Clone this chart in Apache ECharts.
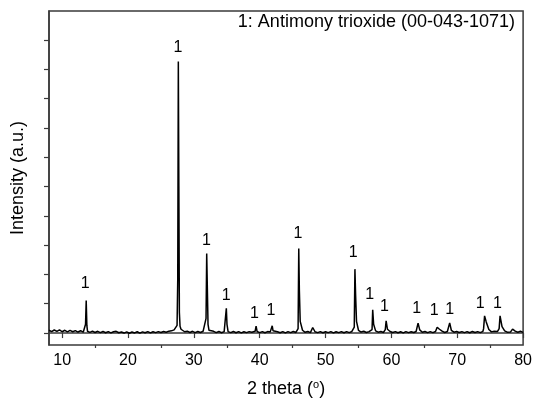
<!DOCTYPE html>
<html>
<head>
<meta charset="utf-8">
<script src="https://cdn.jsdelivr.net/npm/echarts@6/dist/echarts.min.js"></script>
<style>html,body{margin:0;padding:0;background:#fff}#c{width:535px;height:403px}</style>
</head>
<body>
<div id="c"></div>
<script>
// 2theta (deg)
const twoTheta = [8.0,8.4,8.8,9.2,9.6,10.0,10.4,10.8,11.2,11.6,12.0,12.4,12.8,13.2,13.45,13.55,13.65,13.75,13.85,14.2,14.6,15.0,15.4,15.8,16.2,16.6,17.0,17.4,17.8,18.2,18.6,19.0,19.4,19.8,20.2,20.6,21.0,21.4,21.8,22.2,22.6,23.0,23.4,23.8,24.2,24.6,25.0,25.4,25.8,26.2,26.6,27.0,27.3,27.45,27.55,27.64,27.72,27.8,27.9,28.05,28.3,28.6,29.0,29.4,29.8,30.2,30.6,31.0,31.4,31.7,31.85,31.95,32.05,32.15,32.3,32.6,33.0,33.4,33.8,34.2,34.6,34.82,34.93,35.03,35.2,35.6,36.0,36.4,36.8,37.2,37.6,38.0,38.4,38.8,39.3,39.45,39.6,40.0,40.4,40.8,41.2,41.6,41.78,41.9,42.02,42.3,42.7,43.1,43.5,43.9,44.3,44.7,45.1,45.5,45.7,45.83,45.93,46.02,46.15,46.5,46.9,47.3,47.7,47.9,48.05,48.4,48.8,49.2,49.6,50.0,50.4,50.8,51.2,51.6,52.0,52.4,52.8,53.2,53.6,54.0,54.22,54.36,54.46,54.56,54.7,55.0,55.4,55.8,56.2,56.6,56.9,57.06,57.16,57.3,57.6,58.0,58.4,58.8,58.95,59.07,59.2,59.4,59.8,60.2,60.6,61.0,61.4,61.8,62.2,62.6,63.0,63.4,63.75,63.93,64.05,64.3,64.7,65.1,65.5,65.9,66.3,66.7,66.85,66.95,67.1,67.3,67.7,68.1,68.5,68.65,68.74,68.85,69.1,69.5,69.9,70.3,70.7,71.1,71.5,71.9,72.3,72.7,73.1,73.5,73.75,73.9,74.0,74.15,74.4,74.8,75.2,75.6,75.9,76.12,76.26,76.36,76.5,76.8,77.2,77.6,77.9,78.1,78.4,78.8,79.2,79.6,80.0];
// intensity (a.u.)
const intensity = [95,50,105,55,110,45,95,40,90,45,85,35,80,30,60,300,1108,260,60,25,65,20,60,15,55,10,50,5,45,60,10,35,0,40,-5,35,5,45,0,40,10,50,5,45,15,50,20,55,30,65,75,110,160,260,1800,9264,5000,700,230,130,95,45,65,20,60,15,55,20,60,70,500,2712,1500,300,95,35,60,15,55,10,50,80,847,300,50,15,55,10,50,5,45,15,50,25,60,237,55,15,50,10,50,40,80,247,80,20,45,10,50,5,50,15,55,20,60,150,2881,1470,400,95,25,55,15,50,190,45,15,50,10,45,15,50,5,45,15,50,10,50,15,55,60,200,2180,1322,400,95,35,60,20,50,30,120,790,300,75,30,55,20,60,120,417,130,55,20,50,10,45,5,50,15,45,20,55,70,339,110,30,55,15,50,15,55,60,200,261,130,65,20,55,55,120,349,95,30,55,20,50,15,50,10,55,20,50,15,55,60,150,586,380,120,40,60,20,55,60,150,586,220,75,30,60,40,136,65,30,60,25,60,30,55];
// "1" annotations: positions (2theta, intensity)
const markX = [13.5,27.6,31.9,34.9,39.2,41.7,45.8,54.2,56.7,58.96,63.83,66.5,68.84,73.5,76.1];
const markY = [1695,9729,3163,1288,678,756,3390,2746,1322,915,824,756,814,1017,993];
const markText = '1';
const xTicks = [10,20,30,40,50,60,70,80];
const xMinorTicks = [15,25,35,45,55,65,75];
const yTicks = [0,1000,2000,3000,4000,5000,6000,7000,8000,9000,10000];
const legendText = '1: Antimony trioxide (00-043-1071)';

const FONT = 'Liberation Sans, Arial, sans-serif';
const AX = '#3a3a3a';
const chart = echarts.init(document.getElementById('c'), null, {renderer: 'canvas'});
const lineData = twoTheta.map((x, i) => [x, intensity[i]]);
const markData = markX.map((x, i) => [x, markY[i]]);

chart.setOption({
  animation: false,
  backgroundColor: '#fff',
  title: {
    text: legendText, right: 20, top: 13, padding: 0,
    textStyle: {fontFamily: FONT, fontSize: 18, fontWeight: 'normal', color: '#000'}
  },
  grid: {left: 49, right: 7, top: 11, bottom: 56, show: true, borderColor: AX, borderWidth: 1.5, backgroundColor: 'transparent'},
  xAxis: [{
    type: 'value', min: 8, max: 80,
    name: '2 theta ({sup|o})', nameLocation: 'middle', nameGap: 34,
    nameTextStyle: {fontFamily: FONT, fontSize: 18, color: '#000',
      rich: {sup: {fontFamily: FONT, fontSize: 11, color: '#000', verticalAlign: 'top', padding: [0, 0, 9, 0]}}},
    axisLine: {show: true, lineStyle: {color: AX, width: 1.5}},
    axisTick: {show: true, length: 5, lineStyle: {color: AX, width: 1.2}, customValues: xTicks},
    axisLabel: {show: true, fontFamily: FONT, fontSize: 16, color: '#000', margin: 8, customValues: xTicks},
    splitLine: {show: false}
  }, {
    type: 'value', min: 8, max: 80, position: 'bottom',
    axisLine: {show: false},
    axisTick: {show: true, length: 3, lineStyle: {color: AX, width: 1.2}, customValues: xMinorTicks},
    axisLabel: {show: false, customValues: xMinorTicks},
    splitLine: {show: false}
  }],
  yAxis: {
    type: 'value', min: -407, max: 10983,
    name: 'Intensity (a.u.)', nameLocation: 'middle', nameGap: 22,
    nameTextStyle: {fontFamily: FONT, fontSize: 18, color: '#000'},
    axisLine: {show: true, lineStyle: {color: AX, width: 1.5}},
    axisTick: {show: true, length: 5, lineStyle: {color: AX, width: 1.2}, customValues: yTicks},
    axisLabel: {show: false, customValues: yTicks},
    splitLine: {show: false}
  },
  series: [{
    type: 'line', data: lineData, showSymbol: false, symbol: 'none',
    lineStyle: {color: '#000', width: 1.5}, z: 3
  }, {
    type: 'scatter', data: markData, symbolSize: 0, itemStyle: {opacity: 1},
    label: {show: true, position: 'inside', formatter: markText, fontFamily: FONT, fontSize: 16, color: '#000', opacity: 1, textBorderWidth: 0},
    z: 4
  }]
});
</script>
</body>
</html>
